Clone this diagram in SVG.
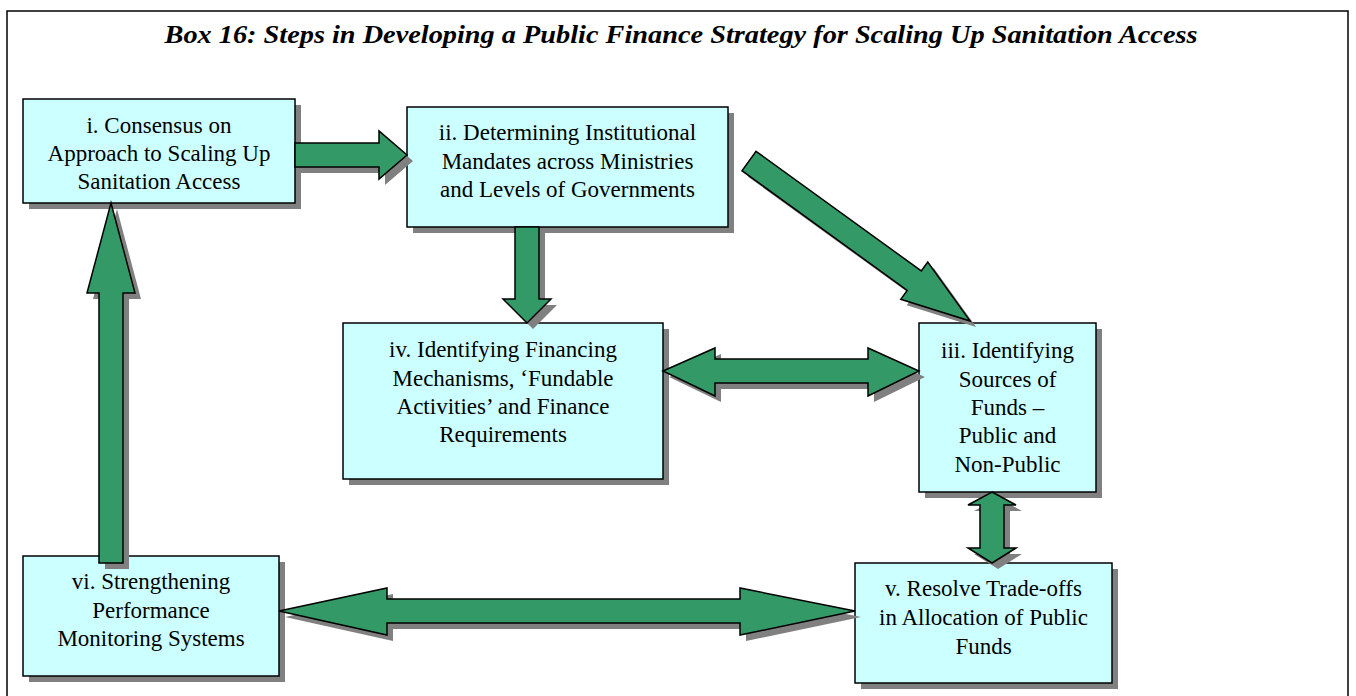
<svg xmlns="http://www.w3.org/2000/svg" xmlns:xlink="http://www.w3.org/1999/xlink" width="1356" height="696" viewBox="0 0 1356 696">
<style>
.box{fill:#CCFFFF;stroke:#000;stroke-width:1.5}
.sh{fill:#808080;stroke:none}
.arr{fill:#339966;stroke:#000;stroke-width:1.5;stroke-linejoin:miter}
.t{font-family:"Liberation Serif","Times New Roman",serif;font-size:23px;fill:#000;text-anchor:middle}
.title{font-family:"Liberation Serif","Times New Roman",serif;font-size:26px;font-weight:bold;font-style:italic;fill:#000;text-anchor:middle}
</style>
<rect x="0" y="0" width="1356" height="696" fill="#fff"/>
<rect x="7" y="11" width="1341" height="700" fill="none" stroke="#000" stroke-width="1.5"/>
<text class="title" x="681" y="43" textLength="1033" lengthAdjust="spacingAndGlyphs">Box 16: Steps in Developing a Public Finance Strategy for Scaling Up Sanitation Access</text>

<g id="node-i">
<rect class="sh" x="29" y="105" width="272" height="104"/>
<rect class="box" x="23" y="99" width="272" height="104"/>
<text class="t" x="159" y="133">i. Consensus on</text>
<text class="t" x="159" y="161">Approach to Scaling Up</text>
<text class="t" x="159" y="189">Sanitation Access</text>
</g>
<g id="node-ii">
<rect class="sh" x="413" y="113" width="321" height="120"/>
<rect class="box" x="407" y="107" width="321" height="120"/>
<text class="t" x="567.5" y="140">ii. Determining Institutional</text>
<text class="t" x="567.5" y="169">Mandates across Ministries</text>
<text class="t" x="567.5" y="197">and Levels of Governments</text>
</g>
<g id="node-iv">
<rect class="sh" x="349" y="329" width="320" height="156"/>
<rect class="box" x="343" y="323" width="320" height="156"/>
<text class="t" x="503" y="357">iv. Identifying Financing</text>
<text class="t" x="503" y="386">Mechanisms, ‘Fundable</text>
<text class="t" x="503" y="414">Activities’ and Finance</text>
<text class="t" x="503" y="442">Requirements</text>
</g>
<g id="node-iii">
<rect class="sh" x="925" y="329" width="177" height="169"/>
<rect class="box" x="919" y="323" width="177" height="169"/>
<text class="t" x="1007.5" y="358">iii. Identifying</text>
<text class="t" x="1007.5" y="387">Sources of</text>
<text class="t" x="1007.5" y="415">Funds –</text>
<text class="t" x="1007.5" y="443">Public and</text>
<text class="t" x="1007.5" y="472">Non-Public</text>
</g>
<g id="node-v">
<rect class="sh" x="861" y="569" width="257" height="120"/>
<rect class="box" x="855" y="563" width="257" height="120"/>
<text class="t" x="983.5" y="596">v. Resolve Trade-offs</text>
<text class="t" x="983.5" y="625">in Allocation of Public</text>
<text class="t" x="983.5" y="654">Funds</text>
</g>
<g id="node-vi">
<rect class="sh" x="29" y="562" width="256" height="120"/>
<rect class="box" x="23" y="556" width="256" height="120"/>
<text class="t" x="151" y="589">vi. Strengthening</text>
<text class="t" x="151" y="618">Performance</text>
<text class="t" x="151" y="646">Monitoring Systems</text>
</g>

<g id="connectors">
<defs>
<polygon id="a1" points="295,143 379,143 379,131 407,155 379,179 379,167 295,167"/>
<polygon id="a2" points="99,563 99,293 87,293 111,203 135,293 123,293 123,563"/>
<polygon id="a3" points="515,227 539,227 539,299 551,299 527,323 503,299 515,299"/>
<polygon id="a4" points="663,371 715,348 715,359 868,359 868,348 919,371 868,396 868,383 715,383 715,396"/>
<polygon id="a5" points="992,492 1016,505 1004,505 1004,548 1016,548 992,563 968,548 980,548 980,505 968,505"/>
<polygon id="a6" points="279,611 387,588 387,599 740,599 740,588 855,611 740,635 740,623 387,623 387,635"/>
<polygon id="a7" points="0,-12 204,-12 204,-23 273,0 204,23 204,12 0,12" transform="translate(749,161) rotate(35.9)"/>
</defs>
<g transform="translate(6,6)">
<use href="#a1" class="sh"/><use href="#a2" class="sh"/><use href="#a3" class="sh"/><use href="#a4" class="sh"/><use href="#a5" class="sh"/><use href="#a6" class="sh"/><use href="#a7" class="sh"/>
</g>
<use href="#a1" class="arr"/><use href="#a2" class="arr"/><use href="#a3" class="arr"/><use href="#a4" class="arr"/><use href="#a5" class="arr"/><use href="#a6" class="arr"/><use href="#a7" class="arr"/>
</g>
</svg>
